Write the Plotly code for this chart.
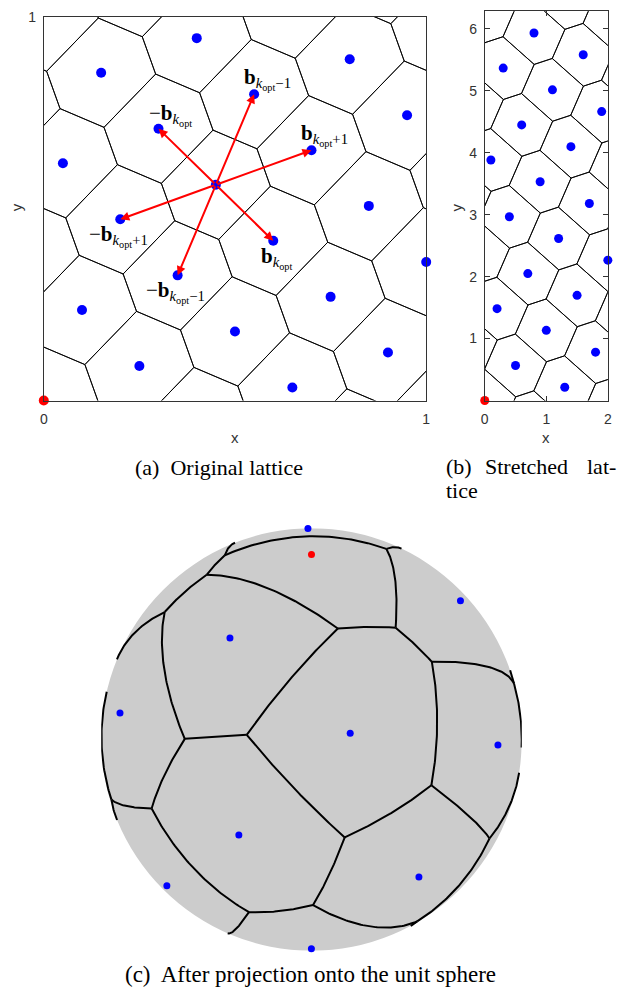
import numpy as np
import plotly.graph_objects as go

W, H = 623, 994

# ---------------- data ----------------
# (a) original lattice in the unit square, index k = 0..20
lat_x = [0.00, 0.05, 0.10, 0.15, 0.20, 0.25, 0.30, 0.35, 0.40, 0.45, 0.50,
         0.55, 0.60, 0.65, 0.70, 0.75, 0.80, 0.85, 0.90, 0.95, 1.00]
lat_y = [0.000, 0.618, 0.236, 0.854, 0.472, 0.090, 0.708, 0.326, 0.944, 0.562, 0.180,
         0.798, 0.416, 0.034, 0.652, 0.270, 0.889, 0.507, 0.125, 0.743, 0.361]

# (b) stretched lattice
str_x = [0.0, 0.1, 0.2, 0.3, 0.4, 0.5, 0.6, 0.7, 0.8, 0.9, 1.0,
         1.1, 1.2, 1.3, 1.4, 1.5, 1.6, 1.7, 1.8, 1.9, 2.0]
str_y = [0.000, 3.883, 1.483, 5.366, 2.966, 0.566, 4.449, 2.049, 5.932, 3.532, 1.133,
         5.015, 2.615, 0.215, 4.098, 1.698, 5.581, 3.181, 0.781, 4.664, 2.266]

center_idx = 9
arrow_targets = [12, 11, 14, 6, 7, 4]
arrow_labels = [
    "<b>b</b><sub><i>k</i><sub>opt</sub></sub>",
    "<b>b</b><sub><i>k</i><sub>opt</sub>−1</sub>",
    "<b>b</b><sub><i>k</i><sub>opt</sub>+1</sub>",
    "−<b>b</b><sub><i>k</i><sub>opt</sub></sub>",
    "−<b>b</b><sub><i>k</i><sub>opt</sub>−1</sub>",
    "−<b>b</b><sub><i>k</i><sub>opt</sub>+1</sub>",
]
label_shift = [(4, -17), (13, 15), (13, 15), (12, 14), (-2, -17), (-2, -17)]

a_xticks = [0, 1]
a_yticks = [1]
b_xticks = [0, 1, 2]
b_yticks = [1, 2, 3, 4, 5, 6]

view_az_deg = 44.7
view_el_deg = 28.8

# ---------------- helpers ----------------
def clip(poly, n, c):
    out = []
    m = len(poly)
    for i in range(m):
        p, q = poly[i], poly[(i + 1) % m]
        fp, fq = p @ n - c, q @ n - c
        if fp <= 0:
            out.append(p)
        if fp * fq < 0:
            t = fp / (fp - fq)
            out.append(p + t * (q - p))
    return out


def lattice_cell(u, v):
    s = 10.0
    poly = [np.array(p, float) for p in [(-s, -s), (s, -s), (s, s), (-s, s)]]
    for i in range(-4, 5):
        for j in range(-4, 5):
            if i == 0 and j == 0:
                continue
            n = i * u + j * v
            poly = clip(poly, n, n @ n / 2)
    return np.array(poly)


def voronoi_lines(px_, py_, xr, yr):
    P = np.column_stack([px_, py_]).astype(float)
    u = P[11] - P[center_idx]
    v = P[12] - P[center_idx]
    cell = lattice_cell(u, v)
    xs, ys = [], []
    for i in range(-40, 41):
        for j in range(-40, 41):
            c = P[0] + i * u + j * v
            if xr[0] <= c[0] <= xr[1] and yr[0] <= c[1] <= yr[1]:
                poly = cell + c
                xs += list(poly[:, 0]) + [poly[0, 0], None]
                ys += list(poly[:, 1]) + [poly[0, 1], None]
    return xs, ys


fig = go.Figure()

# ---------------- panel (a) ----------------
vx, vy = voronoi_lines(lat_x, lat_y, (-0.4, 1.4), (-0.4, 1.4))
fig.add_trace(go.Scatter(x=vx, y=vy, mode="lines", line=dict(color="black", width=0.9),
                         xaxis="x", yaxis="y", hoverinfo="skip", showlegend=False))
fig.add_trace(go.Scatter(x=lat_x[1:], y=lat_y[1:], mode="markers",
                         marker=dict(color="#0000ff", size=10), cliponaxis=False,
                         xaxis="x", yaxis="y", showlegend=False))
fig.add_trace(go.Scatter(x=lat_x[:1], y=lat_y[:1], mode="markers",
                         marker=dict(color="#ff0000", size=10), cliponaxis=False,
                         xaxis="x", yaxis="y", showlegend=False))

annotations = []
cx, cy = lat_x[center_idx], lat_y[center_idx]
for t, lab, (sx, sy) in zip(arrow_targets, arrow_labels, label_shift):
    annotations.append(dict(x=lat_x[t], y=lat_y[t], ax=cx, ay=cy, xref="x", yref="y",
                            axref="x", ayref="y", text="", showarrow=True,
                            arrowhead=2, arrowsize=0.9, arrowwidth=2, arrowcolor="#ff0000",
                            standoff=0, startstandoff=0))
    annotations.append(dict(x=lat_x[t], y=lat_y[t], xref="x", yref="y", text=lab,
                            showarrow=False, xshift=sx, yshift=sy,
                            xanchor="center", yanchor="middle",
                            font=dict(family="Liberation Serif", size=21, color="black")))

# ---------------- panel (b) ----------------
wx, wy = voronoi_lines(str_x, str_y, (-0.8, 2.8), (-1.5, 8.0))
fig.add_trace(go.Scatter(x=wx, y=wy, mode="lines", line=dict(color="black", width=0.9),
                         xaxis="x2", yaxis="y2", hoverinfo="skip", showlegend=False))
fig.add_trace(go.Scatter(x=str_x[1:], y=str_y[1:], mode="markers",
                         marker=dict(color="#0000ff", size=9), cliponaxis=False,
                         xaxis="x2", yaxis="y2", showlegend=False))
fig.add_trace(go.Scatter(x=str_x[:1], y=str_y[:1], mode="markers",
                         marker=dict(color="#ff0000", size=9), cliponaxis=False,
                         xaxis="x2", yaxis="y2", showlegend=False))

# ---------------- panel (c): sphere ----------------
zs = 1 - np.array(str_x)
rs = np.sqrt(np.clip(1 - zs ** 2, 0, None))
ph = np.array(str_y)
S = np.column_stack([rs * np.cos(ph), rs * np.sin(ph), zs])

az, el = np.radians(view_az_deg), np.radians(view_el_deg)
Cv = np.array([np.cos(el) * np.cos(az), np.cos(el) * np.sin(az), np.sin(el)])
Uv = np.array([-np.sin(el) * np.cos(az), -np.sin(el) * np.sin(az), np.cos(el)])
Rv = np.array([np.sin(az), -np.cos(az), 0.0])

N = len(S)
faces = []
for i in range(N):
    for j in range(i + 1, N):
        for k in range(j + 1, N):
            n = np.cross(S[j] - S[i], S[k] - S[i])
            nn = np.linalg.norm(n)
            if nn < 1e-12:
                continue
            n = n / nn
            s = (S - S[i]) @ n
            if np.all(s <= 1e-9):
                faces.append(((i, j, k), n))
            elif np.all(s >= -1e-9):
                faces.append(((i, j, k), -n))

edge_faces = {}
for fi, (tri, n) in enumerate(faces):
    for a_, b_ in [(tri[0], tri[1]), (tri[0], tri[2]), (tri[1], tri[2])]:
        edge_faces.setdefault((a_, b_), []).append(fi)

sxs, sys_ = [], []
for key, fl in edge_faces.items():
    for p in range(len(fl)):
        for q in range(p + 1, len(fl)):
            n1, n2 = faces[fl[p]][1], faces[fl[q]][1]
            om = np.arccos(np.clip(n1 @ n2, -1, 1))
            if om < 1e-6:
                continue
            ts = np.linspace(0, 1, 60)
            arc = (np.sin((1 - ts)[:, None] * om) * n1 + np.sin(ts[:, None] * om) * n2) / np.sin(om)
            d = arc @ Cv
            X = arc @ Rv
            Y = arc @ Uv
            for xx, yy, dd in zip(X, Y, d):
                if dd > -0.01:
                    sxs.append(xx); sys_.append(yy)
                else:
                    sxs.append(None); sys_.append(None)
            sxs.append(None); sys_.append(None)

fig.add_trace(go.Scatter(x=sxs, y=sys_, mode="lines", line=dict(color="black", width=2),
                         xaxis="x3", yaxis="y3", hoverinfo="skip", showlegend=False))

depth = S @ Cv
vis = depth > 0
PX = S @ Rv
PY = S @ Uv
blue_vis = [i for i in range(1, N) if vis[i]]
fig.add_trace(go.Scatter(x=PX[blue_vis], y=PY[blue_vis], mode="markers",
                         marker=dict(color="#0000ff", size=7), cliponaxis=False,
                         xaxis="x3", yaxis="y3", showlegend=False))
if vis[0]:
    fig.add_trace(go.Scatter(x=PX[:1], y=PY[:1], mode="markers",
                             marker=dict(color="#ff0000", size=7), cliponaxis=False,
                             xaxis="x3", yaxis="y3", showlegend=False))

# ---------------- layout ----------------
def dx(p):
    return p / W

def dy(p):
    return 1 - p / H

tickfont = dict(family="Liberation Sans", size=14, color="#333333")
common = dict(showgrid=False, zeroline=False, showline=True, mirror="ticks",
              linecolor="#333333", linewidth=1, ticks="inside", ticklen=5,
              tickcolor="#333333", tickwidth=1, tickfont=tickfont)

shapes = [dict(type="circle", xref="x3", yref="y3", x0=-1, x1=1, y0=-1, y1=1,
               fillcolor="#cccccc", line=dict(width=0), layer="below")]

lab_font = dict(family="Liberation Sans", size=15, color="#333333")
ctr = dict(xref="paper", yref="paper", showarrow=False, xanchor="center", yanchor="middle")
annotations += [
    dict(x=dx(233.5), y=dy(433), text="x", font=lab_font, **ctr),
    dict(x=dx(13), y=dy(201), text="y", font=lab_font, textangle=-90, **ctr),
    dict(x=dx(549), y=dy(433), text="x", font=lab_font, **ctr),
    dict(x=dx(458), y=dy(201), text="y", font=lab_font, textangle=-90, **ctr),
]

cap_font = dict(family="Liberation Serif", size=22, color="black")
cap_font_c = dict(family="Liberation Serif", size=23, color="black")
annotations += [
    dict(x=dx(218), y=dy(463), xref="paper", yref="paper", text="(a)  Original lattice",
         showarrow=False, font=cap_font, xanchor="center", yanchor="middle"),
    dict(x=dx(446), y=dy(462), xref="paper", yref="paper", text="(b)", showarrow=False,
         font=cap_font, xanchor="left", yanchor="middle"),
    dict(x=dx(485), y=dy(462), xref="paper", yref="paper", text="Stretched", showarrow=False,
         font=cap_font, xanchor="left", yanchor="middle"),
    dict(x=dx(622), y=dy(462), xref="paper", yref="paper", text="lat-", showarrow=False,
         font=cap_font, xanchor="right", yanchor="middle"),
    dict(x=dx(446), y=dy(486), xref="paper", yref="paper", text="tice", showarrow=False,
         font=cap_font, xanchor="left", yanchor="middle"),
    dict(x=dx(310.5), y=dy(974), xref="paper", yref="paper",
         text="(c)  After projection onto the unit sphere", showarrow=False,
         font=cap_font_c, xanchor="center", yanchor="middle"),
]

fig.update_layout(
    width=W, height=H, margin=dict(l=0, r=0, t=0, b=0), autosize=False,
    paper_bgcolor="white", plot_bgcolor="white", showlegend=False,
    xaxis=dict(domain=[dx(40.3), dx(427.7)], range=[0, 1], tickvals=a_xticks,
               anchor="y", ticklabelstandoff=6, **common),
    yaxis=dict(domain=[dy(395.7), dy(8.7)], range=[0, 1], tickvals=a_yticks,
               anchor="x", ticklabelstandoff=4, **common),
    xaxis2=dict(domain=[dx(487), dx(611.7)], range=[0, 2], tickvals=b_xticks,
                anchor="y2", ticklabelstandoff=6, **common),
    yaxis2=dict(domain=[dy(395.7), dy(3.3)], range=[0, 2 * np.pi], tickvals=b_yticks,
                anchor="x2", ticklabelstandoff=4, **common),
    xaxis3=dict(domain=[dx(98.5), dx(524.5)], range=[-1, 1], visible=False, anchor="y3"),
    yaxis3=dict(domain=[dy(950.5), dy(524.5)], range=[-1, 1], visible=False, anchor="x3"),
    shapes=shapes, annotations=annotations,
)

fig.write_html("out.html", config={"displayModeBar": False})

# remove the default page margin so the figure sits at the window's top-left corner
css = ("<style>html,body{margin:0!important;padding:0!important;overflow:hidden!important;"
       "width:623px;height:994px;}"
       ".plotly-graph-div{position:absolute!important;top:0;left:0;}</style>")
with open("out.html", "r", encoding="utf-8") as f:
    html = f.read()
if "<head>" in html:
    html = html.replace("<head>", "<head>" + css, 1)
else:
    html = css + html
with open("out.html", "w", encoding="utf-8") as f:
    f.write(html)
